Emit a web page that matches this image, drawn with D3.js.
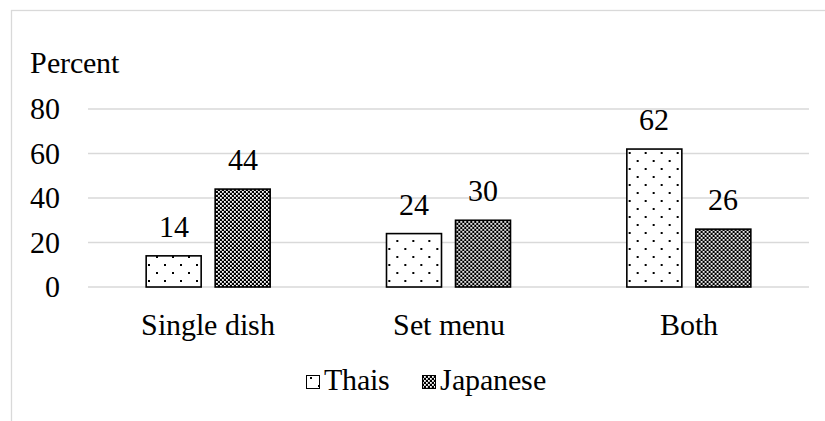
<!DOCTYPE html>
<html>
<head>
<meta charset="utf-8">
<script src="https://cdn.jsdelivr.net/npm/d3@7.9.0/dist/d3.min.js"></script>
<style>
  @font-face {
    font-family: "ChartSerif";
    src: local("Liberation Serif"), local("LiberationSerif"), local("LiberationSerif-Regular"), local("Times New Roman");
  }
  body { margin: 0; background: #fff; }
</style>
</head>
<body>
<div id="chart"></div>
<script>
// data
const categories = ["Single dish", "Set menu", "Both"];
const seriesNames = ["Thais", "Japanese"];
const thais = [14, 24, 62];
const japanese = [44, 30, 26];
const yTicks = [0, 20, 40, 60, 80];

const W = 825, H = 421;
const margin = { top: 109, right: 16, bottom: 134, left: 88 };
const width = W - margin.left - margin.right;
const height = H - margin.top - margin.bottom;
const fontSize = 30;
const serif = "ChartSerif, 'Liberation Serif', 'Times New Roman', serif";

const rows = categories.map((c, i) => ({ cat: c, values: [thais[i], japanese[i]] }));

const svg = d3.select("#chart").append("svg")
  .attr("width", W)
  .attr("height", H)
  .attr("font-size", fontSize);

// patterns: dotted for Thais, checker for Japanese
const defs = svg.append("defs");
const dots = defs.append("pattern")
  .attr("id", "pat-thais")
  .attr("patternUnits", "userSpaceOnUse")
  .attr("width", 16).attr("height", 16);
dots.append("rect").attr("width", 16).attr("height", 16).attr("fill", "#fff");
dots.append("rect").attr("x", 4).attr("y", 3).attr("width", 2).attr("height", 2).attr("fill", "#000");
dots.append("rect").attr("x", 12).attr("y", 11).attr("width", 2).attr("height", 2).attr("fill", "#000");

const check = defs.append("pattern")
  .attr("id", "pat-japanese")
  .attr("patternUnits", "userSpaceOnUse")
  .attr("width", 4).attr("height", 4);
check.append("rect").attr("width", 4).attr("height", 4).attr("fill", "#000");
check.append("rect").attr("x", 0).attr("y", 0).attr("width", 1.8).attr("height", 1.8).attr("fill", "#fff");
check.append("rect").attr("x", 2).attr("y", 2).attr("width", 1.8).attr("height", 1.8).attr("fill", "#fff");

const fills = ["url(#pat-thais)", "url(#pat-japanese)"];

// outer chart border
svg.append("rect")
  .attr("x", 11.5).attr("y", 10.5)
  .attr("width", 900).attr("height", 600)
  .attr("fill", "none")
  .attr("stroke", "#d9d9d9")
  .attr("stroke-width", 1.3);

const g = svg.append("g")
  .attr("transform", `translate(${margin.left},${margin.top})`);

const x0 = d3.scaleBand()
  .domain(categories)
  .range([0, width])
  .paddingInner(0)
  .paddingOuter(0);

const groupW = 124;
const x1 = d3.scaleBand()
  .domain(seriesNames)
  .range([x0.bandwidth() / 2 - groupW / 2, x0.bandwidth() / 2 + groupW / 2])
  .paddingInner(14 / 69)
  .paddingOuter(0);

const y = d3.scaleLinear()
  .domain([0, 80])
  .range([height, 0]);

// gridlines
g.append("g")
  .selectAll("line")
  .data(yTicks)
  .join("line")
    .attr("x1", 0)
    .attr("x2", width)
    .attr("y1", d => y(d))
    .attr("y2", d => y(d))
    .attr("stroke", "#d9d9d9")
    .attr("stroke-width", 1.5);

// y tick labels
g.append("g")
  .selectAll("text")
  .data(yTicks)
  .join("text")
    .attr("x", -28)
    .attr("y", d => y(d) + 10)
    .attr("text-anchor", "end")
    .text(d => d);

// axis title
svg.append("text")
  .attr("x", 30)
  .attr("y", 73)
  .text("Percent");

// bars
const groups = g.selectAll(".grp")
  .data(rows)
  .join("g")
    .attr("class", "grp")
    .attr("transform", d => `translate(${x0(d.cat)},0)`);

const cells = d => d.values.map((v, i) => ({ key: seriesNames[i], v, i }));

groups.selectAll("rect")
  .data(cells)
  .join("rect")
    .attr("x", d => x1(d.key))
    .attr("y", d => y(d.v))
    .attr("width", x1.bandwidth())
    .attr("height", d => y(0) - y(d.v))
    .attr("fill", d => fills[d.i])
    .attr("stroke", "#000")
    .attr("stroke-width", 1.6);

// value labels
groups.selectAll(".val")
  .data(cells)
  .join("text")
    .attr("class", "val")
    .attr("x", d => x1(d.key) + x1.bandwidth() / 2)
    .attr("y", d => y(d.v) - 19)
    .attr("text-anchor", "middle")
    .text(d => d.v);

// category labels
g.append("g")
  .selectAll("text")
  .data(categories)
  .join("text")
    .attr("x", d => x0(d) + x0.bandwidth() / 2)
    .attr("y", height + 48)
    .attr("text-anchor", "middle")
    .text(d => d);

// legend
const legendX = [306, 422];
const items = svg.append("g")
  .attr("transform", "translate(0,390)")
  .selectAll("g")
  .data(seriesNames)
  .join("g")
    .attr("transform", (d, i) => `translate(${legendX[i]},0)`);
items.append("rect")
  .attr("x", 0.5).attr("y", -14.5)
  .attr("width", 13).attr("height", 13)
  .attr("fill", (d, i) => fills[i])
  .attr("stroke", "#000")
  .attr("stroke-width", 1);
items.append("text")
  .attr("x", 18)
  .attr("y", 0)
  .text(d => d);

// serif face on every label
svg.selectAll("text").style("font-family", serif, "important");
</script>
</body>
</html>
